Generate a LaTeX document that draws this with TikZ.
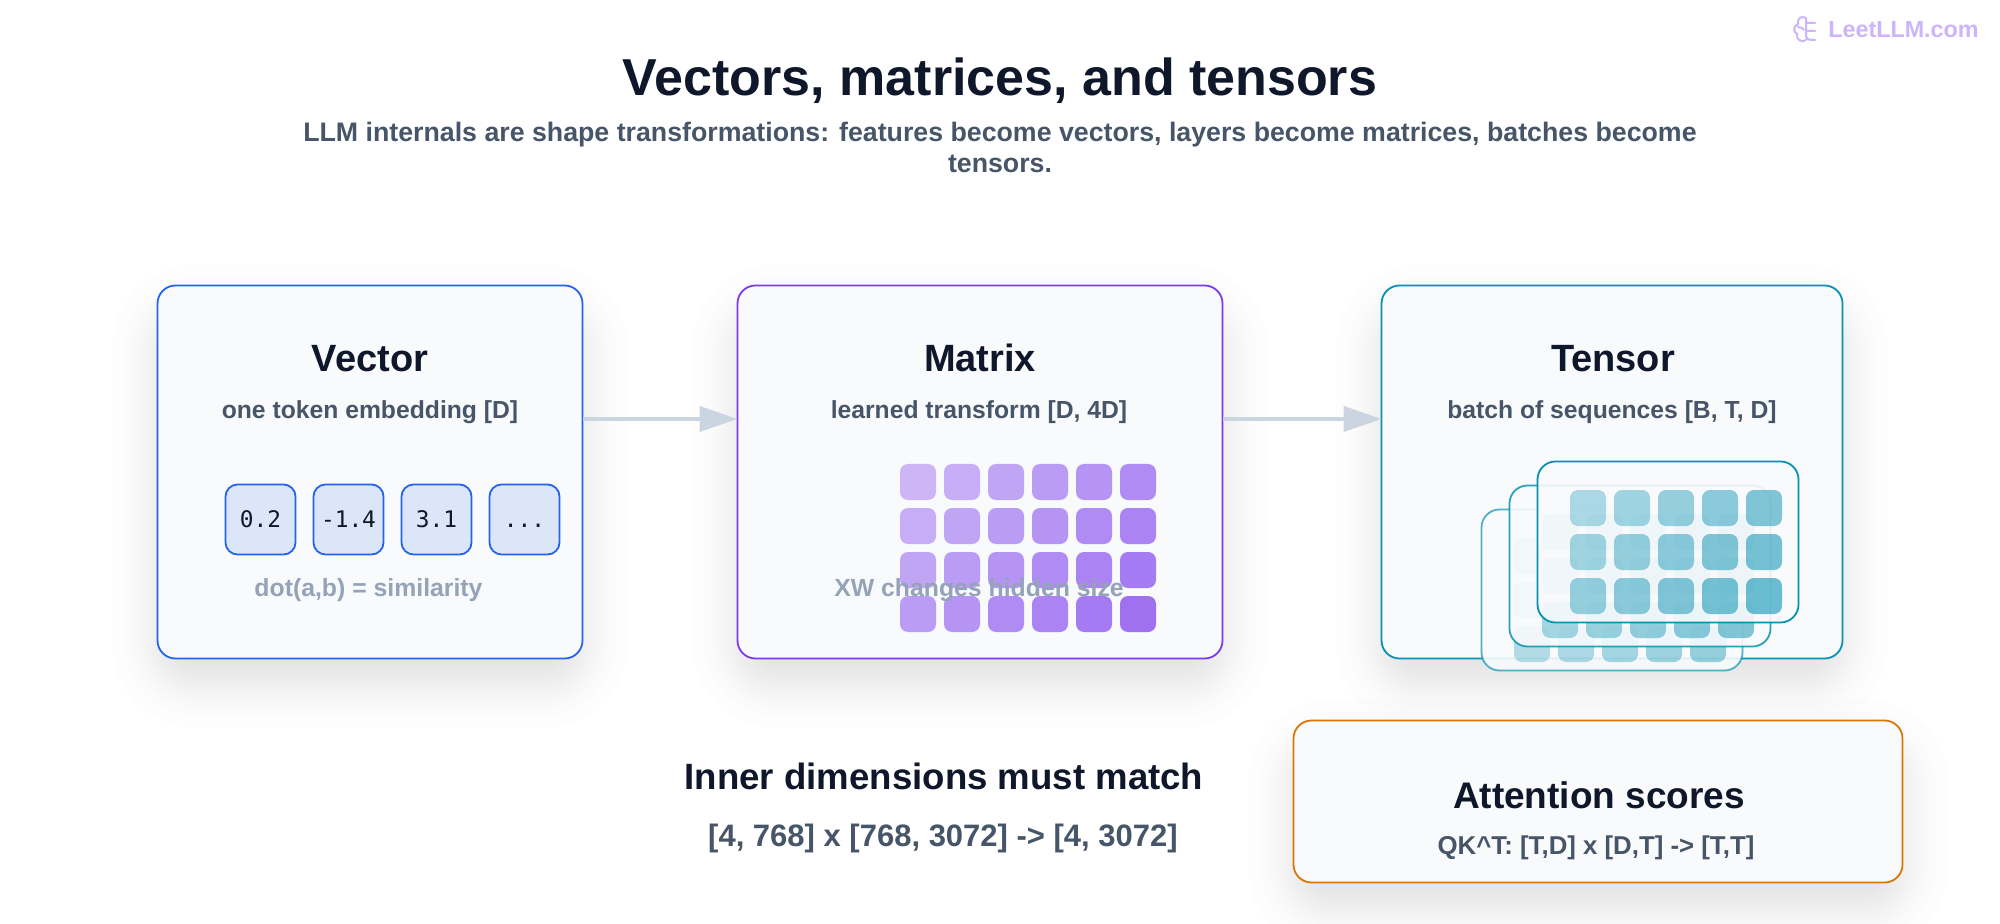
\documentclass[tikz,border=0pt]{standalone}
\usepackage{fontspec}
\setmainfont{Liberation Sans}
\setmonofont{DejaVu Sans Mono}
\usetikzlibrary{arrows.meta,backgrounds}
\definecolor{inkdark}{HTML}{0F172A}
\definecolor{inkmid}{HTML}{475569}
\definecolor{inklight}{HTML}{94A3B8}
\definecolor{cardfill}{HTML}{F8FAFC}
\definecolor{cellblue}{HTML}{DBE6F9}
\definecolor{lineblue}{HTML}{2563EB}
\definecolor{linepurple}{HTML}{7C3AED}
\definecolor{lineteal}{HTML}{0891B2}
\definecolor{lineorange}{HTML}{D97706}
\definecolor{arrowgray}{HTML}{CBD5E1}
\definecolor{markcolor}{HTML}{CDB4FB}
\tikzset{
    card/.style={draw,line width=0.9pt,fill=cardfill,rounded corners=9pt,inner sep=0pt,minimum height=186.5pt},
    cardhead/.style={anchor=base,text=inkdark,font=\fontsize{19}{22}\selectfont\bfseries},
    cardsub/.style={anchor=base,text=inkmid,font=\fontsize{12.35}{14}\selectfont\bfseries},
    cardnote/.style={anchor=base,text=inklight,font=\fontsize{12.4}{14}\selectfont\bfseries},
    vecbox/.style={draw=lineblue,line width=0.9pt,fill=cellblue,rounded corners=6pt,inner sep=0pt,minimum width=35pt,minimum height=35pt,
        text height=8.3pt,text depth=0pt,text=inkdark,font=\fontsize{11.4}{12}\selectfont\ttfamily},
    square/.style={rounded corners=4pt,inner sep=0pt,minimum width=18pt,minimum height=18pt},
    panel/.style={draw=lineteal,line width=0.9pt,fill=cardfill,fill opacity=0.9,rounded corners=9pt,inner sep=0pt,minimum width=130.5pt,minimum height=80.5pt},
    flow/.style={draw=arrowgray,line width=2pt,-{Triangle[length=19pt,width=12.5pt]},shorten >=-0.5pt},
}
\begin{document}
\begin{tikzpicture}[x=0.5pt,y=-0.5pt]
        \useasboundingbox (0,0) rectangle (2000,924);

        \node[anchor=base,text=inkdark,font=\fontsize{26}{30}\selectfont\bfseries] (title) at (1000,96){Vectors, matrices, and tensors};
        \node[anchor=base,text=inkmid,font=\fontsize{13.37}{16}\selectfont\bfseries] (subtitle) at (1000,142){LLM internals are shape transformations: features become vectors, layers become matrices, batches become};
        \node[anchor=base,text=inkmid,font=\fontsize{13.37}{16}\selectfont\bfseries] (subtitlewrap) at (1000,173){tensors.};

        % watermark
        \node[anchor=base west,inner sep=0pt,text=markcolor,font=\fontsize{11.65}{14}\selectfont\bfseries] (mark) at (1828,38){LeetLLM.com};
        \draw[markcolor,line width=1pt,line cap=round,line join=round]
            (1806,18) .. controls (1801,15) and (1797,19) .. (1798,24)
            .. controls (1793,26) and (1793,32) .. (1797,34)
            .. controls (1796,40) and (1802,43) .. (1806,40)
            (1798,27) .. controls (1801,27) and (1803,28) .. (1804,30)
            (1806,18) -- (1806,37) .. controls (1806,39) and (1808,40) .. (1815,40)
            (1806,23) -- (1815,23) (1806,31) -- (1815,31);

        \node[card,draw=lineblue,minimum width=212.5pt] (vector) at (370,472){};
        \node[card,draw=linepurple,minimum width=242.5pt] (matrix) at (980,472){};
        \node[card,draw=lineteal,minimum width=230.5pt] (tensor) at (1612,472){};
        \node[card,draw=lineorange,minimum width=304.5pt,minimum height=81pt] (scores) at (1598,801.5){};

        % soft shadows, stacked
        \begin{scope}[on background layer]
            \fill[white] (0,0) rectangle (2000,924);
            \foreach \card in {vector,matrix,tensor,scores}
                \foreach \e in {44.6,31.7,24.2,18.7,13.9,9.6,5.8,1.9,-1.9,-5.8,-9.6,-13.9,-18.7,-24.2,-31.7,-44.6}{
                    \pgfmathsetmacro{\rr}{max(4,40+\e)/2}
                    \fill[inkdark,opacity=0.0066,rounded corners=\rr pt]
                        ([shift={(-\e,24-\e)}]\card.north west) rectangle ([shift={(\e,24+\e)}]\card.south east);
                }
        \end{scope}

        \path [flow] ([yshift=26.5pt]vector.east) to ([yshift=26.5pt]matrix.west);
        \path [flow] ([yshift=26.5pt]matrix.east) to ([yshift=26.5pt]tensor.west);

        \node[cardhead] (vectorhead) at (370,372){Vector};
        \node[cardsub] (vectorsub) at (370,419){one token embedding [D]};
        \node[vecbox] (val1) at (260.5,519.5){0.2};
        \node[vecbox] (val2) at (348.5,519.5){-1.4};
        \node[vecbox] (val3) at (436.5,519.5){3.1};
        \node[vecbox] (val4) at (524.5,519.5){...};
        \node[cardnote] (vectornote) at (368.5,596){dot(a,b) = similarity};

        \node[cardhead] (matrixhead) at (980,372){Matrix};
        \node[cardsub] (matrixsub) at (979,419){learned transform [D, 4D]};
        \foreach \r in {0,...,3}
            \foreach \c in {0,...,5}{
                \pgfmathsetmacro{\a}{0.35+0.045*(\r+\c)}
                \node[square,fill=linepurple,fill opacity=\a] (m\r\c) at (918+44*\c,482+44*\r){};
            }
        \node[cardnote] (matrixnote) at (979,596){XW changes hidden size};

        \node[cardhead] (tensorhead) at (1613,372){Tensor};
        \node[cardsub] (tensorsub) at (1612,419){batch of sequences [B, T, D]};
        % back to front
        \foreach \p/\px/\py/\o in {0/1612/590/0.7,1/1640/566/0.85,2/1668/542/1}{
            \node[panel,draw opacity=\o] (slice\p) at (\px,\py){};
            \foreach \r in {0,1,2}
                \foreach \c in {0,...,4}{
                    \pgfmathsetmacro{\a}{\o*(0.32+0.045*(\r+\c))}
                    \node[square,fill=lineteal,fill opacity=\a] (t\p\r\c) at (\px-80+44*\c,\py-34+44*\r){};
                }
        }

        \node[anchor=base,text=inkdark,font=\fontsize{18.3}{20}\selectfont\bfseries] (innerhead) at (944,789){Inner dimensions must match};
        \node[anchor=base,text=inkmid,font=\fontsize{15.5}{18}\selectfont\bfseries] (innersub) at (943,846){[4, 768] x [768, 3072] -> [4, 3072]};

        \node[anchor=base,text=inkdark,font=\fontsize{18.5}{22}\selectfont\bfseries] (scoreshead) at (1599,808){Attention scores};
        \node[anchor=base,text=inkmid,font=\fontsize{12.9}{14}\selectfont\bfseries] (scoressub) at (1596,854){QK\^{}T: [T,D] x [D,T] -> [T,T]};
    \end{tikzpicture}
\end{document}
